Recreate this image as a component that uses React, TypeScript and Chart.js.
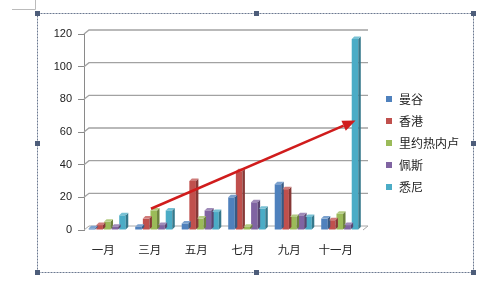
import React, { useEffect, useRef } from "react";
import { Chart, registerables } from "chart.js";
Chart.register(...registerables);

const categories = ["一月", "三月", "五月", "七月", "九月", "十一月"];
const seriesNames = ["曼谷", "香港", "里约热内卢", "佩斯", "悉尼"];
const bangkok = [1, 2, 4, 20, 28, 7];
const hongkong = [3, 7, 30, 36, 25, 6];
const rio = [5, 12, 7, 2, 8, 10];
const perth = [2, 3, 12, 17, 9, 3];
const sydney = [9, 12, 11, 13, 8, 117];
const seriesValues = [bangkok, hongkong, rio, perth, sydney];
const seriesColors = ["#4F81BD", "#C0504D", "#9BBB59", "#8064A2", "#4BACC6"];
const yMin = 0;
const yMax = 120;
const yStep = 20;
// annotation arrow in data coordinates [category index, value]
const arrowStart = [0.94, 13];
const arrowEnd = [5.34, 67];

const CJK = "'Noto Sans CJK SC', 'Liberation Sans', sans-serif";
const NUM = "'Liberation Sans', 'DejaVu Sans', sans-serif";

const WALL_DX = 5;
const WALL_DY = 4;

function shade(hex: string, f: number) {
  const n = parseInt(hex.slice(1), 16);
  let r = (n >> 16) & 255, g = (n >> 8) & 255, b = n & 255;
  if (f < 0) {
    r = Math.round(r * (1 + f)); g = Math.round(g * (1 + f)); b = Math.round(b * (1 + f));
  } else {
    r = Math.round(r + (255 - r) * f); g = Math.round(g + (255 - g) * f); b = Math.round(b + (255 - b) * f);
  }
  return `rgb(${r},${g},${b})`;
}

const wall = {
  id: "wall",
  beforeDatasetsDraw(chart: any) {
    const ctx = chart.ctx;
    const { left, right, bottom } = chart.chartArea;
    const ys = chart.scales.y;
    ctx.save();
    ctx.strokeStyle = "#a2a2a2";
    ctx.lineWidth = 1.3;
    ys.ticks.forEach((t: any) => {
      const y = ys.getPixelForValue(t.value);
      if (t.value === yMin) return;
      ctx.beginPath();
      ctx.moveTo(left, y);
      ctx.lineTo(left + WALL_DX, y - WALL_DY);
      ctx.lineTo(right + WALL_DX, y - WALL_DY);
      ctx.stroke();
    });
    // floor
    ctx.strokeStyle = "#a8a8a8";
    ctx.lineWidth = 1;
    ctx.beginPath();
    ctx.moveTo(left, bottom);
    ctx.lineTo(left + WALL_DX, bottom - WALL_DY);
    ctx.lineTo(right + WALL_DX, bottom - WALL_DY);
    ctx.lineTo(right, bottom);
    ctx.stroke();
    ctx.restore();
  },
};

const bar3d = {
  id: "bar3d",
  afterDatasetsDraw(chart: any) {
    const ctx = chart.ctx;
    const d = 2.5;
    chart.data.datasets.forEach((ds: any, i: number) => {
      const meta = chart.getDatasetMeta(i);
      const col = seriesColors[i];
      meta.data.forEach((el: any) => {
        const { x, y, base, width } = el.getProps(["x", "y", "base", "width"], true);
        const l = x - width / 2, r = x + width / 2;
        ctx.save();
        ctx.fillStyle = shade(col, -0.3);
        ctx.beginPath();
        ctx.moveTo(r, y);
        ctx.lineTo(r + d, y - d);
        ctx.lineTo(r + d, base - d);
        ctx.lineTo(r, base);
        ctx.closePath();
        ctx.fill();
        ctx.fillStyle = shade(col, 0.25);
        ctx.beginPath();
        ctx.moveTo(l, y);
        ctx.lineTo(l + d, y - d);
        ctx.lineTo(r + d, y - d);
        ctx.lineTo(r, y);
        ctx.closePath();
        ctx.fill();
        ctx.restore();
      });
    });
  },
};

const decor = {
  id: "decor",
  beforeDraw(chart: any) {
    const ctx = chart.ctx;
    ctx.save();
    ctx.fillStyle = "#ffffff";
    ctx.fillRect(0, 0, chart.width, chart.height);
    ctx.restore();
  },
  afterDraw(chart: any) {
    const ctx = chart.ctx;
    const xs = chart.scales.x, ys = chart.scales.y;
    // arrow
    const x1 = xs.getPixelForValue(arrowStart[0]), y1 = ys.getPixelForValue(arrowStart[1]);
    const x2 = xs.getPixelForValue(arrowEnd[0]), y2 = ys.getPixelForValue(arrowEnd[1]);
    const ang = Math.atan2(y2 - y1, x2 - x1);
    const hl = 13, hw = 5.5;
    ctx.save();
    ctx.strokeStyle = "#d01c1c";
    ctx.fillStyle = "#d01c1c";
    ctx.lineWidth = 2.5;
    ctx.beginPath();
    ctx.moveTo(x1, y1);
    ctx.lineTo(x2 - hl * Math.cos(ang), y2 - hl * Math.sin(ang));
    ctx.stroke();
    ctx.beginPath();
    ctx.moveTo(x2, y2);
    ctx.lineTo(x2 - hl * Math.cos(ang) + hw * Math.sin(ang), y2 - hl * Math.sin(ang) - hw * Math.cos(ang));
    ctx.lineTo(x2 - hl * Math.cos(ang) - hw * Math.sin(ang), y2 - hl * Math.sin(ang) + hw * Math.cos(ang));
    ctx.closePath();
    ctx.fill();
    ctx.restore();

    // legend
    ctx.save();
    ctx.font = `12px ${CJK}`;
    ctx.textBaseline = "middle";
    seriesNames.forEach((name, i) => {
      const cy = 99 + i * 22;
      ctx.fillStyle = seriesColors[i];
      ctx.fillRect(386, cy - 3, 6, 6);
      ctx.fillStyle = "#222";
      ctx.fillText(name, 399, cy);
    });
    ctx.restore();

    // frame
    ctx.save();
    ctx.strokeStyle = "#6b7890";
    ctx.lineWidth = 1;
    ctx.setLineDash([2, 1]);
    ctx.strokeRect(37.5, 13.5, 436, 259);
    ctx.setLineDash([]);
    ctx.fillStyle = "#4d5d7a";
    const hs: number[][] = [[37, 13], [256, 13], [473, 13], [37, 143], [473, 143], [37, 272], [256, 272], [473, 272]];
    hs.forEach(([hx, hy]) => ctx.fillRect(hx - 2, hy - 2, 5, 5));
    ctx.strokeStyle = "#bbbbbb";
    ctx.beginPath();
    ctx.moveTo(12, 9.5);
    ctx.lineTo(35.5, 9.5);
    ctx.lineTo(35.5, 0);
    ctx.stroke();
    ctx.restore();
  },
};

export default function App() {
  const ref = useRef<HTMLCanvasElement | null>(null);
  useEffect(() => {
    if (!ref.current) return;
    const chart = new Chart(ref.current, {
      type: "bar",
      data: {
        labels: categories,
        datasets: seriesNames.map((name, i) => ({
          label: name,
          data: seriesValues[i],
          backgroundColor: seriesColors[i],
          borderWidth: 0,
          categoryPercentage: 0.82,
          barPercentage: 0.86,
        })),
      },
      options: {
        responsive: false,
        animation: false,
        devicePixelRatio: 1,
        layout: { padding: { left: 40, right: 137, top: 34, bottom: 31 } },
        plugins: { legend: { display: false }, tooltip: { enabled: false } },
        scales: {
          x: {
            afterFit: (s: any) => { s.height = 30; },
            grid: { display: false, drawTicks: false },
            border: { display: false },
            ticks: { padding: 13, labelOffset: -4, color: "#222", font: { family: CJK, size: 11.5 } },
          },
          y: {
            min: yMin,
            max: yMax,
            afterFit: (s: any) => { s.width = 44; },
            ticks: { stepSize: yStep, padding: 6, color: "#222", font: { family: NUM, size: 11 } },
            grid: { drawOnChartArea: false, tickLength: 6, tickColor: "#8a8a8a" },
            border: { display: true, color: "#8a8a8a" },
          },
        },
      },
      plugins: [decor, wall, bar3d],
    } as any);
    return () => chart.destroy();
  }, []);
  return (
    <div style={{ position: "absolute", left: 0, top: 0, width: 500, height: 291 }}>
      <canvas ref={ref} width={500} height={291} style={{ display: "block" }} />
    </div>
  );
}
